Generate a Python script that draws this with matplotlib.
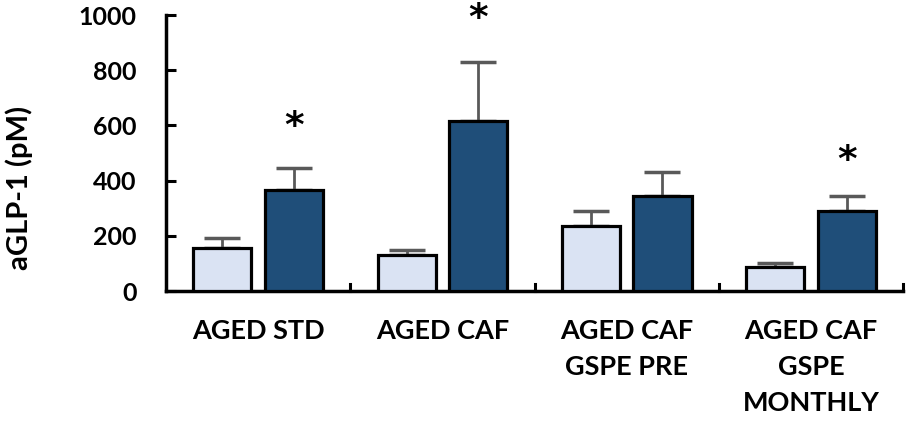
import numpy as np
import matplotlib
matplotlib.use("Agg")
import matplotlib.pyplot as plt

plt.rcParams['font.family'] = ['Lato', 'DejaVu Sans']
plt.rcParams['font.weight'] = 'bold'
plt.rcParams['axes.labelweight'] = 'bold'

groups = ["AGED STD", "AGED CAF", "AGED CAF\nGSPE PRE", "AGED CAF\nGSPE\nMONTHLY"]
light_vals = [156, 130, 236, 87]
light_err = [36, 20, 54, 14]
dark_vals = [366, 616, 344, 290]
dark_err = [80, 214, 87, 54]
star_pos = [594, 985, None, 471]

light_color = '#dae3f3'
dark_color = '#1f4e79'
err_color = '#595959'

fig = plt.figure(figsize=(9.09, 4.23), dpi=100)
ax = fig.add_axes([0.1826, 0.312, 0.811, 0.6525])

x = np.arange(len(groups))
width = 0.315
off = 0.194

ax.bar(x - off, light_vals, width, color=light_color, edgecolor='black', linewidth=2.3, zorder=3)
ax.bar(x + off, dark_vals, width, color=dark_color, edgecolor='black', linewidth=2.3, zorder=3)
ax.errorbar(x - off, light_vals, yerr=[np.zeros(4), light_err], fmt='none',
            ecolor=err_color, elinewidth=2, capsize=13, capthick=2.5, zorder=2)
ax.errorbar(x + off, dark_vals, yerr=[np.zeros(4), dark_err], fmt='none',
            ecolor=err_color, elinewidth=2, capsize=13, capthick=2.5, zorder=2)

for i, s in enumerate(star_pos):
    if s is not None:
        ax.text(x[i] + off, s, '*', ha='center', va='center', fontsize=27,
                fontweight='bold', family='DejaVu Sans', clip_on=False)

ax.set_xlim(-0.5, len(groups) - 0.5)
ax.set_ylim(0, 1000)
ax.set_yticks([0, 200, 400, 600, 800, 1000])
ax.tick_params(axis='y', direction='in', length=7, width=2.2, labelsize=18, pad=21)
ax.set_xticks(x)
ax.set_xticklabels(groups, fontsize=19.5, linespacing=1.6, va='top')
ax.tick_params(axis='x', length=0, pad=20)
for b in np.arange(0.5, len(groups), 1.0):
    ax.plot([b, b], [0, 25], color='black', lw=2.2, clip_on=False, zorder=4)

for side in ['top', 'right']:
    ax.spines[side].set_visible(False)
for side in ['left', 'bottom']:
    ax.spines[side].set_linewidth(2.5)

ax.set_ylabel("aGLP-1 (pM)", fontsize=21)
ax.yaxis.set_label_coords(-0.18, 0.373)

fig.savefig("out.png", dpi=100)
